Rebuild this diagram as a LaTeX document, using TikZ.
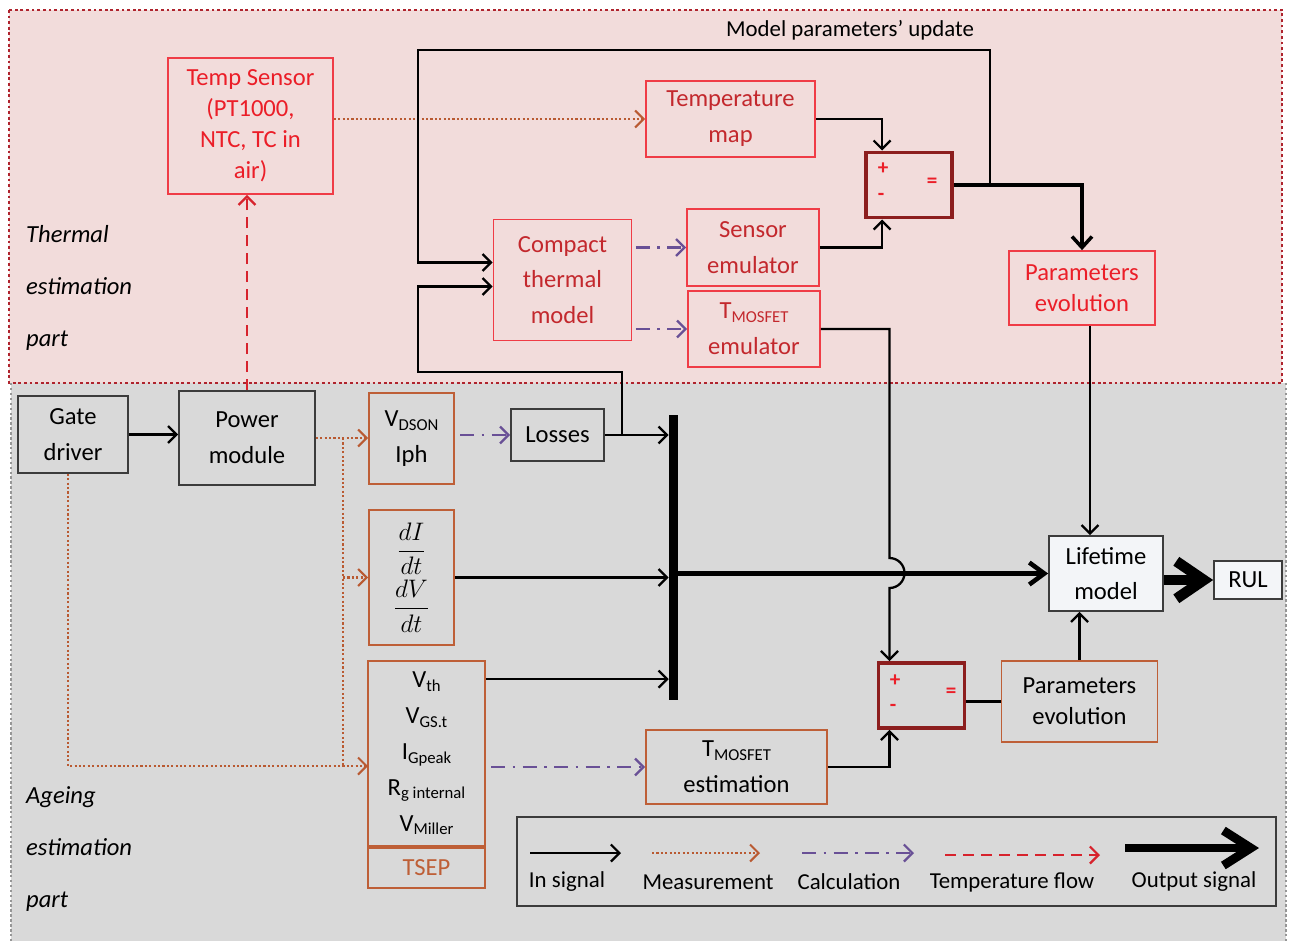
\documentclass[tikz,border=0pt]{standalone}
\usepackage{amsmath}
\usepackage{fontspec}
\setmainfont{Carlito}
\usetikzlibrary{arrows.meta}

\definecolor{pinkbg}{RGB}{242,220,219}
\definecolor{greybg}{RGB}{217,217,217}
\definecolor{thermbd}{RGB}{175,35,45}
\definecolor{greybd}{RGB}{150,150,150}
\definecolor{redbd}{RGB}{240,60,70}
\definecolor{redtx}{RGB}{235,30,40}
\definecolor{maroontx}{RGB}{195,40,45}
\definecolor{brownbd}{RGB}{190,95,55}
\definecolor{cmpbd}{RGB}{140,30,30}
\definecolor{calcpurple}{RGB}{105,80,150}
\definecolor{measbrown}{RGB}{185,90,50}
\definecolor{tempred}{RGB}{215,35,45}
\definecolor{boxgrey}{RGB}{60,60,60}
\definecolor{lightfill}{RGB}{243,245,248}

\newcommand{\lowsub}[1]{\raisebox{-0.3ex}{\fontsize{9.5}{10}\selectfont #1}}

\begin{document}
\begin{tikzpicture}[
  x=0.02cm, y=-0.02cm,
  >={Straight Barb[length=1.7mm,width=3.4mm]},
  font=\fontsize{14}{20.4}\selectfont,
  nbox/.style={draw=boxgrey, line width=1pt, align=center, inner sep=1pt},
  blk/.style={nbox},
  rbx/.style={nbox, draw=redbd, text=maroontx},
  obx/.style={nbox, draw=brownbd},
  cmp/.style={draw=cmpbd, line width=2.2pt, minimum width=1.72cm, minimum height=1.3cm},
  sgn/.style={text=redtx, font=\fontsize{12}{12}\selectfont\bfseries, inner sep=0pt},
  busbar/.style={fill=black, minimum width=0.18cm, minimum height=5.72cm, inner sep=0pt},
  sidelbl/.style={font=\fontsize{14}{29.5}\selectfont\itshape, align=left, anchor=west},
  legtxt/.style={font=\fontsize{13}{15}\selectfont},
  sig/.style={->, line width=1.3pt},
  wire/.style={line width=1.3pt},
  sigthick/.style={-{Straight Barb[length=2.2mm,width=4mm]}, line width=2pt},
  bigsig/.style={-{Straight Barb[length=3mm,width=4.4mm]}, line width=2.6pt},
  meas/.style={->, measbrown, line width=1.2pt, dash pattern=on 1.2pt off 1.3pt},
  measl/.style={measbrown, line width=1.2pt, dash pattern=on 1.2pt off 1.3pt},
  calcf/.style={->, calcpurple, line width=1.3pt, dash pattern=on 2.8mm off 1.5mm on 0.5mm off 1.5mm},
  tflow/.style={->, tempred, line width=1.3pt, dash pattern=on 2.2mm off 1.4mm},
  outsig/.style={-{Straight Barb[length=5.5mm,width=7.5mm]}, line width=6pt},
  legout/.style={-{Straight Barb[length=5.5mm,width=7mm]}, line width=5pt},
]
  \useasboundingbox (0,0) rectangle (1291,941);

  % the two parts
  \fill[greybg] (11,383) rectangle (1286,941);
  \draw[greybd, line width=1.4pt, dash pattern=on 1.4pt off 1.4pt] (11,383) -- (11,941) (1286,383) -- (1286,941);
  \fill[pinkbg] (9,10) rectangle (1282,383);
  \draw[thermbd, line width=1.6pt, dash pattern=on 1.6pt off 1.6pt] (9,10) rectangle (1282,383);

  \node[sidelbl] (thl) at (20,288) {Thermal\\estimation\\part};
  \node[sidelbl] (agl) at (20,849) {Ageing\\estimation\\part};
  \node[font=\fontsize{13}{15}\selectfont] (mpu) at (850,30) {Model parameters’ update};

  % thermal estimation blocks
  \node[rbx, text=redtx, font=\fontsize{14}{17.6}\selectfont, minimum width=3.3cm, minimum height=2.72cm] (tsens) at (250.5,126) {Temp Sensor\\(PT1000,\\NTC, TC in\\air)};
  \node[rbx, minimum width=3.38cm, minimum height=1.52cm] (tmap) at (730.5,119) {Temperature\\map};
  \node[rbx, minimum width=2.76cm, minimum height=2.42cm] (ctm) at (562.5,280) {Compact\\thermal\\model};
  \node[rbx, minimum width=2.64cm, minimum height=1.54cm] (semu) at (753,247.5) {Sensor\\emulator};
  \node[rbx, minimum width=2.64cm, minimum height=1.52cm] (temu) at (754,329) {T\lowsub{MOSFET}\\emulator};
  \node[rbx, text=redtx, font=\fontsize{14}{17.6}\selectfont, minimum width=2.92cm, minimum height=1.48cm] (pevt) at (1082,288) {Parameters\\evolution};
  \node[cmp] (cmp1) at (909,185) {};
  \node[sgn] (c1p) at (883,169) {+};
  \node[sgn] (c1m) at (881,197) {-};
  \node[sgn] (c1e) at (932,183) {=};

  % ageing estimation blocks
  \node[blk, minimum width=2.2cm, minimum height=1.54cm] (gate) at (73,434.5) {Gate\\driver};
  \node[blk, minimum width=2.72cm, minimum height=1.88cm] (pmod) at (247,438) {Power\\module};
  \node[obx, minimum width=1.7cm, minimum height=1.82cm] (vds) at (411.5,438.5) {V\lowsub{DSON}\\Iph};
  \node[blk, minimum width=1.86cm, minimum height=1.04cm] (loss) at (557.5,435) {Losses};
  \node[obx, minimum width=1.7cm, minimum height=2.7cm] (didt) at (411.5,577.5) {$\dfrac{dI}{dt}$\\[2pt]$\dfrac{dV}{dt}$};
  \node[obx, minimum width=2.34cm, minimum height=3.7cm] (vth) at (426.5,753.5) {V\lowsub{th}\\V\lowsub{GS.t}\\I\lowsub{Gpeak}\\R\lowsub{g internal}\\V\lowsub{Miller}};
  \node[obx, text=brownbd, minimum width=2.34cm, minimum height=0.8cm, anchor=north] (tsep) at (vth.south) {TSEP};
  \node[busbar] (bus) at (673.5,557.5) {};
  \node[blk, fill=lightfill, minimum width=2.28cm, minimum height=1.5cm] (life) at (1106,573.5) {Lifetime\\model};
  \node[blk, fill=lightfill, minimum width=1.36cm, minimum height=0.76cm] (rul) at (1248,580) {RUL};
  \node[obx, font=\fontsize{14}{17.6}\selectfont, minimum width=3.12cm, minimum height=1.62cm] (pevb) at (1079.5,701.5) {Parameters\\evolution};
  \node[obx, minimum width=3.62cm, minimum height=1.48cm] (test) at (736.5,767) {T\lowsub{MOSFET}\\estimation};
  \node[cmp] (cmp2) at (921.5,695.5) {};
  \node[sgn] (c2p) at (895,681) {+};
  \node[sgn] (c2m) at (893,708) {-};
  \node[sgn] (c2e) at (951,693) {=};

  % thermal part connections
  \draw[tflow] (pmod.north) -- (pmod.north |- tsens.south);
  \draw[meas] (tsens.east |- tmap.west) -- (tmap.west);
  \draw[sig] (tmap.east) -| ([xshift=0.36cm]cmp1.north west);
  \draw[sig] (semu.east) -| ([xshift=0.36cm]cmp1.south west);
  \draw[calcf, shorten <=2pt] (ctm.east |- semu.west) -- (semu.west);
  \draw[calcf, shorten <=2pt] (ctm.east |- temu.west) -- (temu.west);
  \draw[sigthick] (cmp1.east) -| (pevt.north);
  \coordinate (upd) at (990,185);
  \coordinate (tl) at (418,50);
  \draw[sig] (upd) |- (tl) |- ([yshift=0.35cm]ctm.west);
  \coordinate (lr) at (622,372);
  \coordinate (ll) at (418,372);
  \draw[sig] (loss.east -| lr) -- (lr) -- (ll) |- ([yshift=-0.13cm]ctm.west);
  \coordinate (pv) at ([xshift=0.16cm]pevt.south);
  \draw[sig] (pv) -- (pv |- life.north);

  % ageing part connections
  \draw[sig] (gate.east) -- (gate.east -| pmod.west);
  \coordinate (mj) at (343,438);
  \coordinate (gin) at (368,766);
  \draw[meas] (pmod.east) -- (pmod.east -| vds.west);
  \draw[measl] (mj) -- (mj |- gin);
  \draw[meas] (mj |- didt.west) -- (didt.west);
  \draw[meas] ([xshift=-0.1cm]gate.south) |- (gin);
  \draw[calcf, shorten <=3pt] (vds.east |- loss.west) -- (loss.west);
  \draw[sig] (loss.east) -- (loss.east -| bus.west);
  \draw[sig] (didt.east) -- (didt.east -| bus.west);
  \coordinate (vo) at ([yshift=-0.38cm]vth.north east);
  \draw[sig] (vo) -- (vo -| bus.west);
  \draw[bigsig] (bus.center |- life.west) -- (life.west);
  \draw[outsig] (life.east |- rul.west) -- (rul.west);
  \draw[calcf, shorten <=3pt] (vth.east |- test.west) -- (test.west);
  \coordinate (hop) at (889.5,558);
  \draw[sig] (temu.east) -| (hop) arc[start angle=90, end angle=-90, radius=0.3cm] -- ([xshift=-0.64cm]cmp2.north);
  \draw[sig] (test.east) -| ([xshift=-0.64cm]cmp2.south);
  \draw[wire] (cmp2.east |- pevb.west) -- (pevb.west);
  \draw[sig] (pevb.north) -- (pevb.north |- life.south);

  % legend
  \node[draw=boxgrey, line width=1pt, minimum width=15.18cm, minimum height=1.78cm] (leg) at (896.5,861.5) {};
  \foreach \st/\xa/\xb/\ya/\lab/\xl [count=\i] in {%
      sig/530/621/853/In signal/567, meas/652/760/853/Measurement/708,
      calcf/802/914/853/Calculation/849, tflow/945/1100/855/Temperature flow/1012,
      legout/1125/1259/848/Output signal/1194} {
    \coordinate (la\i) at (\xa,\ya);
    \coordinate (lb\i) at (\xb,\ya);
    \draw[\st] (la\i) -- (lb\i);
    \node[legtxt] (lt\i) at (\xl,882) {\lab};
  }
\end{tikzpicture}
\end{document}
